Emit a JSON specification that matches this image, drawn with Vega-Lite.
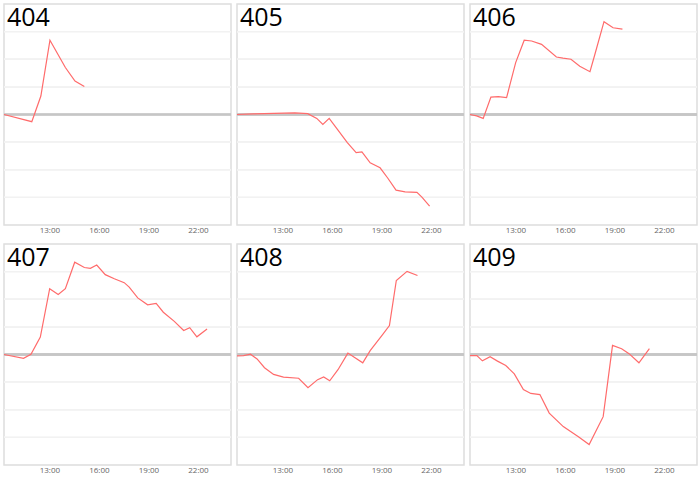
{
  "$schema": "https://vega.github.io/schema/vega-lite/v6.json",
  "padding": {"left": 0, "top": 3, "right": 0, "bottom": 0},
  "background": "white",
  "datasets": {
    "series": [
      {"panel": "404", "t": "2024-01-01T10:15", "v": 0},
      {"panel": "404", "t": "2024-01-01T11:56", "v": -0.26},
      {"panel": "404", "t": "2024-01-01T12:29", "v": 0.67},
      {"panel": "404", "t": "2024-01-01T13:02", "v": 2.69},
      {"panel": "404", "t": "2024-01-01T13:58", "v": 1.7},
      {"panel": "404", "t": "2024-01-01T14:33", "v": 1.21},
      {"panel": "404", "t": "2024-01-01T15:07", "v": 1.01},

      {"panel": "405", "t": "2024-01-01T10:15", "v": 0},
      {"panel": "405", "t": "2024-01-01T11:15", "v": 0.02},
      {"panel": "405", "t": "2024-01-01T12:30", "v": 0.04},
      {"panel": "405", "t": "2024-01-01T13:45", "v": 0.06},
      {"panel": "405", "t": "2024-01-01T14:32", "v": 0.03},
      {"panel": "405", "t": "2024-01-01T15:05", "v": -0.14},
      {"panel": "405", "t": "2024-01-01T15:27", "v": -0.36},
      {"panel": "405", "t": "2024-01-01T15:50", "v": -0.14},
      {"panel": "405", "t": "2024-01-01T16:20", "v": -0.54},
      {"panel": "405", "t": "2024-01-01T16:56", "v": -1.02},
      {"panel": "405", "t": "2024-01-01T17:28", "v": -1.38},
      {"panel": "405", "t": "2024-01-01T17:49", "v": -1.35},
      {"panel": "405", "t": "2024-01-01T18:19", "v": -1.75},
      {"panel": "405", "t": "2024-01-01T18:55", "v": -1.93},
      {"panel": "405", "t": "2024-01-01T19:22", "v": -2.29},
      {"panel": "405", "t": "2024-01-01T19:53", "v": -2.74},
      {"panel": "405", "t": "2024-01-01T20:26", "v": -2.8},
      {"panel": "405", "t": "2024-01-01T21:09", "v": -2.82},
      {"panel": "405", "t": "2024-01-01T21:27", "v": -2.99},
      {"panel": "405", "t": "2024-01-01T21:55", "v": -3.32},

      {"panel": "406", "t": "2024-01-01T10:15", "v": 0},
      {"panel": "406", "t": "2024-01-01T10:39", "v": -0.05},
      {"panel": "406", "t": "2024-01-01T11:03", "v": -0.14},
      {"panel": "406", "t": "2024-01-01T11:31", "v": 0.63},
      {"panel": "406", "t": "2024-01-01T11:58", "v": 0.65},
      {"panel": "406", "t": "2024-01-01T12:28", "v": 0.61},
      {"panel": "406", "t": "2024-01-01T13:01", "v": 1.88},
      {"panel": "406", "t": "2024-01-01T13:32", "v": 2.69},
      {"panel": "406", "t": "2024-01-01T13:59", "v": 2.66},
      {"panel": "406", "t": "2024-01-01T14:35", "v": 2.54},
      {"panel": "406", "t": "2024-01-01T15:29", "v": 2.08},
      {"panel": "406", "t": "2024-01-01T15:53", "v": 2.04},
      {"panel": "406", "t": "2024-01-01T16:22", "v": 2.0},
      {"panel": "406", "t": "2024-01-01T16:54", "v": 1.75},
      {"panel": "406", "t": "2024-01-01T17:31", "v": 1.55},
      {"panel": "406", "t": "2024-01-01T17:49", "v": 2.18},
      {"panel": "406", "t": "2024-01-01T18:22", "v": 3.36},
      {"panel": "406", "t": "2024-01-01T18:55", "v": 3.14},
      {"panel": "406", "t": "2024-01-01T19:29", "v": 3.09},

      {"panel": "407", "t": "2024-01-01T10:15", "v": 0},
      {"panel": "407", "t": "2024-01-01T11:26", "v": -0.14},
      {"panel": "407", "t": "2024-01-01T11:53", "v": 0.01},
      {"panel": "407", "t": "2024-01-01T12:27", "v": 0.63},
      {"panel": "407", "t": "2024-01-01T13:01", "v": 2.38},
      {"panel": "407", "t": "2024-01-01T13:32", "v": 2.17},
      {"panel": "407", "t": "2024-01-01T13:58", "v": 2.38},
      {"panel": "407", "t": "2024-01-01T14:32", "v": 3.34},
      {"panel": "407", "t": "2024-01-01T15:07", "v": 3.15},
      {"panel": "407", "t": "2024-01-01T15:29", "v": 3.12},
      {"panel": "407", "t": "2024-01-01T15:52", "v": 3.24},
      {"panel": "407", "t": "2024-01-01T16:23", "v": 2.89},
      {"panel": "407", "t": "2024-01-01T16:56", "v": 2.74},
      {"panel": "407", "t": "2024-01-01T17:32", "v": 2.6},
      {"panel": "407", "t": "2024-01-01T17:50", "v": 2.44},
      {"panel": "407", "t": "2024-01-01T18:21", "v": 2.05},
      {"panel": "407", "t": "2024-01-01T18:57", "v": 1.8},
      {"panel": "407", "t": "2024-01-01T19:28", "v": 1.85},
      {"panel": "407", "t": "2024-01-01T19:54", "v": 1.53},
      {"panel": "407", "t": "2024-01-01T20:34", "v": 1.2},
      {"panel": "407", "t": "2024-01-01T21:08", "v": 0.87},
      {"panel": "407", "t": "2024-01-01T21:30", "v": 0.97},
      {"panel": "407", "t": "2024-01-01T21:56", "v": 0.64},
      {"panel": "407", "t": "2024-01-01T22:33", "v": 0.92},

      {"panel": "408", "t": "2024-01-01T10:15", "v": -0.05},
      {"panel": "408", "t": "2024-01-01T10:39", "v": -0.04},
      {"panel": "408", "t": "2024-01-01T11:04", "v": 0.01},
      {"panel": "408", "t": "2024-01-01T11:28", "v": -0.16},
      {"panel": "408", "t": "2024-01-01T11:55", "v": -0.48},
      {"panel": "408", "t": "2024-01-01T12:28", "v": -0.72},
      {"panel": "408", "t": "2024-01-01T13:04", "v": -0.82},
      {"panel": "408", "t": "2024-01-01T13:59", "v": -0.86},
      {"panel": "408", "t": "2024-01-01T14:33", "v": -1.2},
      {"panel": "408", "t": "2024-01-01T15:08", "v": -0.91},
      {"panel": "408", "t": "2024-01-01T15:30", "v": -0.81},
      {"panel": "408", "t": "2024-01-01T15:52", "v": -0.95},
      {"panel": "408", "t": "2024-01-01T16:22", "v": -0.55},
      {"panel": "408", "t": "2024-01-01T16:58", "v": 0.05},
      {"panel": "408", "t": "2024-01-01T17:52", "v": -0.3},
      {"panel": "408", "t": "2024-01-01T18:19", "v": 0.14},
      {"panel": "408", "t": "2024-01-01T19:02", "v": 0.69},
      {"panel": "408", "t": "2024-01-01T19:29", "v": 1.05},
      {"panel": "408", "t": "2024-01-01T19:54", "v": 2.68},
      {"panel": "408", "t": "2024-01-01T20:33", "v": 3.01},
      {"panel": "408", "t": "2024-01-01T21:11", "v": 2.86},

      {"panel": "409", "t": "2024-01-01T10:15", "v": -0.04},
      {"panel": "409", "t": "2024-01-01T10:40", "v": -0.04},
      {"panel": "409", "t": "2024-01-01T11:00", "v": -0.23},
      {"panel": "409", "t": "2024-01-01T11:28", "v": -0.08},
      {"panel": "409", "t": "2024-01-01T11:55", "v": -0.24},
      {"panel": "409", "t": "2024-01-01T12:25", "v": -0.4},
      {"panel": "409", "t": "2024-01-01T12:56", "v": -0.7},
      {"panel": "409", "t": "2024-01-01T13:29", "v": -1.27},
      {"panel": "409", "t": "2024-01-01T13:56", "v": -1.41},
      {"panel": "409", "t": "2024-01-01T14:29", "v": -1.45},
      {"panel": "409", "t": "2024-01-01T15:03", "v": -2.12},
      {"panel": "409", "t": "2024-01-01T15:54", "v": -2.61},
      {"panel": "409", "t": "2024-01-01T16:49", "v": -2.98},
      {"panel": "409", "t": "2024-01-01T17:28", "v": -3.26},
      {"panel": "409", "t": "2024-01-01T18:19", "v": -2.25},
      {"panel": "409", "t": "2024-01-01T18:53", "v": 0.33},
      {"panel": "409", "t": "2024-01-01T19:26", "v": 0.21},
      {"panel": "409", "t": "2024-01-01T19:53", "v": 0.03},
      {"panel": "409", "t": "2024-01-01T20:29", "v": -0.3},
      {"panel": "409", "t": "2024-01-01T21:07", "v": 0.21}
    ]
  },
  "data": {"name": "series"},
  "facet": {
    "field": "panel",
    "type": "nominal",
    "header": {"title": null, "labelFontSize": 0, "labelPadding": 0}
  },
  "columns": 3,
  "spacing": {"column": 0, "row": 8},
  "resolve": {"axis": {"x": "independent"}},
  "spec": {
    "width": 227,
    "height": 221,
    "layer": [
      {"mark": {"type": "rule", "color": "#f2f2f2"}, "encoding": {"y": {"datum": 3, "type": "quantitative", "axis": null}}},
      {"mark": {"type": "rule", "color": "#f2f2f2"}, "encoding": {"y": {"datum": 2, "type": "quantitative", "axis": null}}},
      {"mark": {"type": "rule", "color": "#f2f2f2"}, "encoding": {"y": {"datum": 1, "type": "quantitative", "axis": null}}},
      {"mark": {"type": "rule", "color": "#f2f2f2"}, "encoding": {"y": {"datum": -1, "type": "quantitative", "axis": null}}},
      {"mark": {"type": "rule", "color": "#f2f2f2"}, "encoding": {"y": {"datum": -2, "type": "quantitative", "axis": null}}},
      {"mark": {"type": "rule", "color": "#f2f2f2"}, "encoding": {"y": {"datum": -3, "type": "quantitative", "axis": null}}},
      {
        "mark": {"type": "rule", "color": "#c6c6c6", "strokeWidth": 1.5},
        "encoding": {"y": {"datum": 0, "type": "quantitative", "axis": null}}
      },
      {
        "mark": {"type": "line", "color": "#ff6b6b", "strokeWidth": 1.2},
        "encoding": {
          "x": {
            "field": "t",
            "type": "temporal",
            "scale": {
              "domain": [
                {"year": 2024, "month": 1, "date": 1, "hours": 10, "minutes": 15},
                {"year": 2024, "month": 1, "date": 2, "hours": 0}
              ]
            },
            "axis": {
              "values": [
                {"year": 2024, "month": 1, "date": 1, "hours": 13},
                {"year": 2024, "month": 1, "date": 1, "hours": 16},
                {"year": 2024, "month": 1, "date": 1, "hours": 19},
                {"year": 2024, "month": 1, "date": 1, "hours": 22}
              ],
              "format": "%H:%M",
              "title": null,
              "ticks": false,
              "domain": false,
              "grid": false,
              "labelFontSize": 8,
              "labelColor": "#666666",
              "labelPadding": 1
            }
          },
          "y": {
            "field": "v",
            "type": "quantitative",
            "scale": {"domain": [-4, 4], "nice": false},
            "axis": null
          }
        }
      },
      {
        "transform": [
          {"aggregate": [{"op": "count", "as": "n"}], "groupby": ["panel"]}
        ],
        "mark": {
          "type": "text",
          "align": "left",
          "baseline": "top",
          "font": "Open Sans",
          "fontSize": 25,
          "color": "#000000",
          "dx": 3,
          "dy": 2
        },
        "encoding": {
          "x": {"datum": {"year": 2024, "month": 1, "date": 1, "hours": 10, "minutes": 15}, "type": "temporal"},
          "y": {"datum": 4, "type": "quantitative", "axis": null},
          "text": {"field": "panel", "type": "nominal"}
        }
      }
    ]
  },
  "config": {
    "font": "Open Sans",
    "view": {"stroke": "#dddddd", "strokeWidth": 1.5}
  }
}
